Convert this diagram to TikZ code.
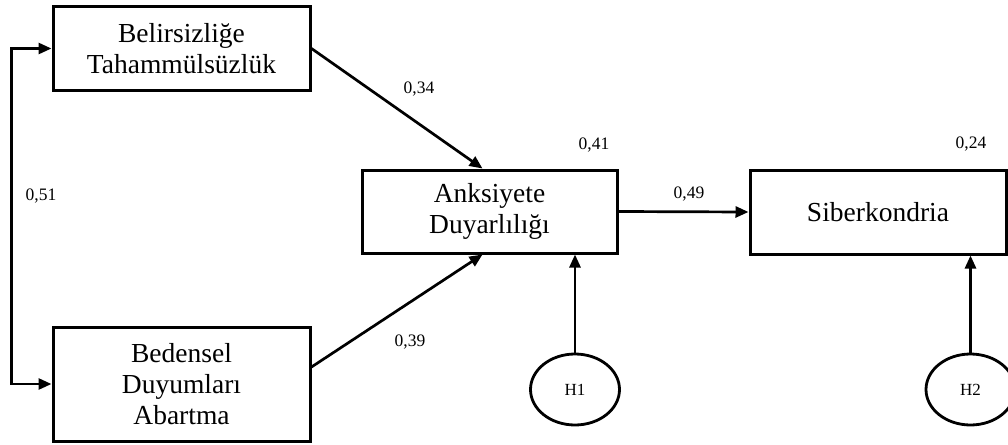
\documentclass[tikz,border=0pt]{standalone}
\usepackage{fontspec}
\setmainfont{Liberation Serif}
\usetikzlibrary{arrows.meta,shapes.geometric}
\begin{document}
\begin{tikzpicture}[x=1pt,y=-1pt,
  boxnode/.style={draw,line width=3pt,rectangle,inner sep=0pt,align=center,font=\fontsize{27.5}{31}\selectfont},
  errnode/.style={draw,line width=2.8pt,ellipse,inner sep=0pt,minimum width=89pt,minimum height=71pt,font=\fontsize{17}{20}\selectfont},
  coef/.style={font=\fontsize{17.5}{20}\selectfont},
  arr/.style={line width=2.7pt,-{Triangle[length=13pt,width=11pt]}},
  dblarr/.style={line width=2.7pt,{Triangle[length=13pt,width=11pt]}-{Triangle[length=13pt,width=11pt]}}]
\useasboundingbox (0,0) rectangle (1008,444);
\node[boxnode,minimum width=257pt,minimum height=83pt] (b1) at (181.5,48.5) {Belirsizliğe\\Tahammülsüzlük};
\node[boxnode,minimum width=257pt,minimum height=114pt] (b2) at (181.5,384) {Bedensel\\Duyumları\\Abartma};
\node[boxnode,minimum width=255pt,minimum height=83pt] (b3) at (489.5,211.5) {Anksiyete\\Duyarlılığı};
\node[boxnode,minimum width=256pt,minimum height=84pt] (b4) at (878,212) {Siberkondria};
\node[errnode] (h1) at (575,389.5) {H1};
\node[errnode] (h2) at (970.5,389.5) {H2};
\draw[dblarr] (b1.west) -- ++(-40,0) |- (b2.west);
\draw[arr] (b1.east) -- ([xshift=-7pt]b3.north);
\draw[arr] ([yshift=17pt]b2.east) -- ([xshift=-7pt]b3.south);
\draw[arr] (b3.east) -- (b4.west);
\draw[arr] (h1.north) -- (h1.north |- b3.south);
\draw[arr] (h2.north) -- (h2.north |- b4.south);
\node[coef] (c1) at (419,89) {0,34};
\node[coef] (c2) at (41,196) {0,51};
\node[coef] (c3) at (689,194) {0,49};
\node[coef] (c4) at (410,342) {0,39};
\node[coef] (c5) at (594,145) {0,41};
\node[coef] (c6) at (971,144) {0,24};
\end{tikzpicture}
\end{document}
